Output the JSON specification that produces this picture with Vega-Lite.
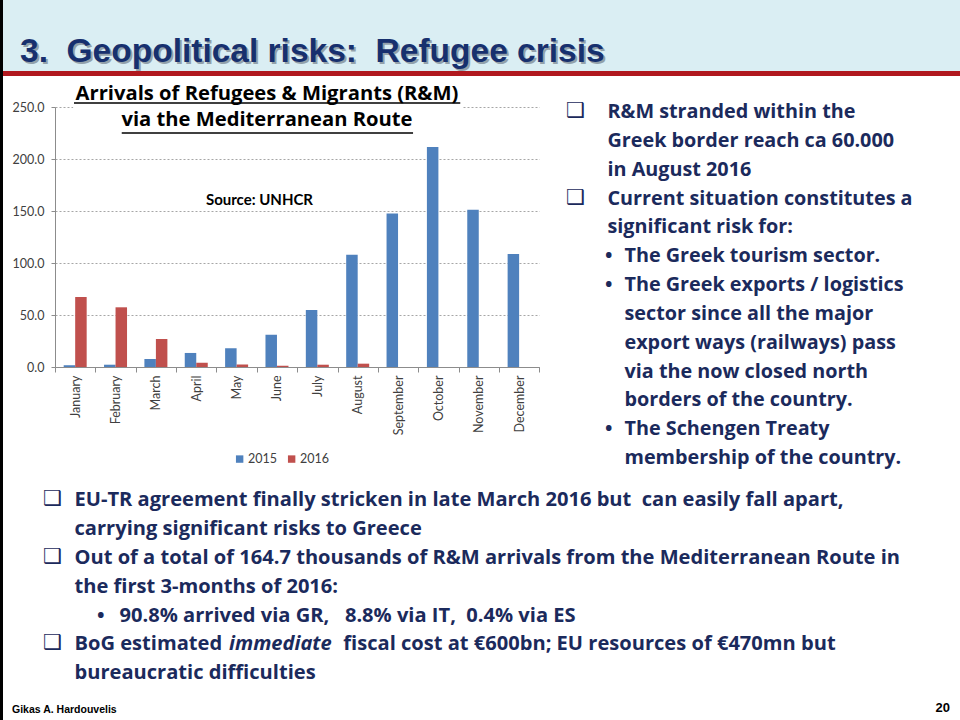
{
  "$schema": "https://vega.github.io/schema/vega-lite/v6.json",
  "padding": 0,
  "background": "white",
  "config": {"view": {"stroke": null}, "font": "Lato"},
  "datasets": {
    "arrivals": [
      {"month": "January", "year": "2015", "value": 1.7},
      {"month": "February", "year": "2015", "value": 2.2},
      {"month": "March", "year": "2015", "value": 7.7},
      {"month": "April", "year": "2015", "value": 13.5},
      {"month": "May", "year": "2015", "value": 18.0},
      {"month": "June", "year": "2015", "value": 31.1},
      {"month": "July", "year": "2015", "value": 54.8},
      {"month": "August", "year": "2015", "value": 108.0},
      {"month": "September", "year": "2015", "value": 147.5},
      {"month": "October", "year": "2015", "value": 211.5},
      {"month": "November", "year": "2015", "value": 151.3},
      {"month": "December", "year": "2015", "value": 108.6},
      {"month": "January", "year": "2016", "value": 67.3},
      {"month": "February", "year": "2016", "value": 57.4},
      {"month": "March", "year": "2016", "value": 26.9},
      {"month": "April", "year": "2016", "value": 4.2},
      {"month": "May", "year": "2016", "value": 2.3},
      {"month": "June", "year": "2016", "value": 1.2},
      {"month": "July", "year": "2016", "value": 2.2},
      {"month": "August", "year": "2016", "value": 3.2}
    ],
    "labels": [
      {"role": "cover", "label": ""},
      {"role": "title1", "label": "Arrivals of Refugees & Migrants (R&M)"},
      {"role": "title2", "label": "via the Mediterranean Route"},
      {"role": "source", "label": "Source: UNHCR"}
    ],
    "header": [{"t": "3.\u00a0 Geopolitical risks:\u00a0 Refugee crisis"}],
    "rightText": [
      {"line": 0, "kind": "box", "text": "R&M stranded within the"},
      {"line": 1, "kind": "cont", "text": "Greek border reach ca 60.000"},
      {"line": 2, "kind": "cont", "text": "in August 2016"},
      {"line": 3, "kind": "box", "text": "Current situation constitutes a"},
      {"line": 4, "kind": "cont", "text": "significant risk for:"},
      {"line": 5, "kind": "bullet", "text": "The Greek tourism sector."},
      {"line": 6, "kind": "bullet", "text": "The Greek exports / logistics"},
      {"line": 7, "kind": "bcont", "text": "sector since all the major"},
      {"line": 8, "kind": "bcont", "text": "export ways (railways) pass"},
      {"line": 9, "kind": "bcont", "text": "via the now closed north"},
      {"line": 10, "kind": "bcont", "text": "borders of the country."},
      {"line": 11, "kind": "bullet", "text": "The Schengen Treaty"},
      {"line": 12, "kind": "bcont", "text": "membership of the country."}
    ],
    "bottomText": [
      {"line": 0, "kind": "box", "seg": "a", "text": "EU-TR agreement finally stricken in late March 2016 but\u00a0 can easily fall apart,"},
      {"line": 1, "kind": "cont", "seg": "a", "text": "carrying significant risks to Greece"},
      {"line": 2, "kind": "box", "seg": "a", "text": "Out of a total of 164.7 thousands of R&M arrivals from the Mediterranean Route in"},
      {"line": 3, "kind": "cont", "seg": "a", "text": "the first 3-months of 2016:"},
      {"line": 4, "kind": "bullet", "seg": "a", "text": "90.8% arrived via GR,\u00a0\u00a0 8.8% via IT,\u00a0 0.4% via ES"},
      {"line": 5, "kind": "box", "seg": "a", "text": "BoG estimated"},
      {"line": 5, "kind": "cont", "seg": "b", "text": "immediate"},
      {"line": 5, "kind": "cont", "seg": "c", "text": "fiscal cost at €600bn; EU resources of €470mn but"},
      {"line": 6, "kind": "cont", "seg": "a", "text": "bureaucratic difficulties"}
    ],
    "footer": [
      {"pos": "left", "t": "Gikas A. Hardouvelis"},
      {"pos": "right", "t": "20"}
    ]
  },
  "spacing": 0,
  "bounds": "flush",
  "hconcat": [
    {"width": 3, "height": 720, "view": {"fill": "#000000"}, "data": {"values": [{}]}, "mark": "text", "encoding": {"text": {"value": ""}}},
    {
      "spacing": 0,
      "bounds": "flush",
      "vconcat": [
        {
          "width": 957, "height": 71,
          "view": {"fill": "#DAEEF3"},
          "data": {"name": "header"},
          "layer": [
            {"mark": {"type": "text", "x": 19, "y": 63.7, "align": "left", "baseline": "alphabetic", "font": "Liberation Sans", "fontWeight": "bold", "fontSize": 33.5, "color": "#5A6470", "opacity": 0.55}, "encoding": {"text": {"field": "t"}}},
            {"mark": {"type": "text", "x": 17, "y": 61.7, "align": "left", "baseline": "alphabetic", "font": "Liberation Sans", "fontWeight": "bold", "fontSize": 33.5, "color": "#17306E"}, "encoding": {"text": {"field": "t"}}}
          ]
        },
        {"width": 957, "height": 5, "view": {"fill": "#B0181E"}, "data": {"values": [{}]}, "mark": "text", "encoding": {"text": {"value": ""}}},
        {"width": 957, "height": 30.7, "data": {"values": [{}]}, "mark": "text", "encoding": {"text": {"value": ""}}},
        {
          "spacing": 0,
          "bounds": "flush",
          "hconcat": [
            {"width": 52, "height": 10, "data": {"values": [{}]}, "mark": "text", "encoding": {"text": {"value": ""}}},
            {
              "width": 484.3, "height": 260,
              "layer": [
                {
                  "data": {"name": "arrivals"},
                  "mark": {"type": "bar"},
                  "encoding": {
                    "x": {"field": "month", "type": "nominal",
                      "scale": {"domain": ["January","February","March","April","May","June","July","August","September","October","November","December"], "paddingInner": 0, "paddingOuter": 0},
                      "axis": {"title": null, "labelAngle": -90, "labelFont": "Lato", "labelFontSize": 12.5, "labelColor": "#404040", "tickBand": "extent", "tickSize": 5, "tickColor": "#8C8C8C", "domainColor": "#8C8C8C", "labelPadding": 3, "grid": false}},
                    "xOffset": {"field": "year", "type": "nominal", "scale": {"domain": ["2015", "2016"], "paddingInner": 0, "paddingOuter": 0.755}},
                    "y": {"field": "value", "type": "quantitative",
                      "scale": {"domain": [0, 250], "nice": false},
                      "axis": {"title": null, "values": [0, 50, 100, 150, 200, 250], "format": ".1f", "labelFont": "Lato", "labelFontSize": 12.5, "labelColor": "#404040", "tickSize": 4, "tickColor": "#8C8C8C", "domainColor": "#8C8C8C", "labelPadding": 7, "grid": true, "gridColor": "#A6A6A6", "gridDash": [2, 2]}},
                    "color": {"field": "year", "type": "nominal",
                      "scale": {"domain": ["2015", "2016"], "range": ["#4F81BD", "#C0504D"]},
                      "legend": {"title": null, "orient": "none", "legendX": 233.4, "legendY": 452.7, "direction": "horizontal", "symbolType": "square", "symbolSize": 55, "symbolStrokeWidth": 0, "labelFont": "Lato", "labelFontSize": 12.5, "labelColor": "#404040", "columnPadding": 8, "labelOffset": 2}}
                  }
                },
                {
                  "data": {"name": "labels"},
                  "transform": [{"filter": "datum.role === 'cover'"}],
                  "mark": {"type": "rule", "color": "white", "strokeWidth": 5, "xOffset": -2, "x2Offset": -16},
                  "encoding": {"x": {"datum": "January"}, "x2": {"datum": "November"}, "y": {"datum": 250}}
                },
                {
                  "data": {"name": "labels"},
                  "transform": [{"filter": "datum.role === 'title1'"}],
                  "mark": {"type": "text", "font": "Open Sans", "fontWeight": "bold", "fontSize": 20.2, "color": "#000000", "align": "center", "baseline": "middle", "dx": -10},
                  "encoding": {"x": {"datum": "June"}, "y": {"datum": 262.2}, "text": {"field": "label"}}
                },
                {
                  "data": {"name": "labels"},
                  "transform": [{"filter": "datum.role === 'title2'"}],
                  "mark": {"type": "text", "font": "Open Sans", "fontWeight": "bold", "fontSize": 20.2, "color": "#000000", "align": "center", "baseline": "middle", "dx": -10},
                  "encoding": {"x": {"datum": "June"}, "y": {"datum": 237.7}, "text": {"field": "label"}}
                },
                {
                  "data": {"name": "labels"},
                  "transform": [{"filter": "datum.role === 'title1'"}],
                  "mark": {"type": "rule", "color": "#000000", "strokeWidth": 1.5, "xOffset": -1.2, "x2Offset": -18.5},
                  "encoding": {"x": {"datum": "January"}, "x2": {"datum": "November"}, "y": {"datum": 253.8}}
                },
                {
                  "data": {"name": "labels"},
                  "transform": [{"filter": "datum.role === 'title2'"}],
                  "mark": {"type": "rule", "color": "#000000", "strokeWidth": 1.5, "xOffset": 6.2, "x2Offset": 15},
                  "encoding": {"x": {"datum": "February"}, "x2": {"datum": "September"}, "y": {"datum": 225}}
                },
                {
                  "data": {"name": "labels"},
                  "transform": [{"filter": "datum.role === 'source'"}],
                  "mark": {"type": "text", "font": "Lato", "fontWeight": "bold", "fontSize": 15, "color": "#000000", "align": "center", "baseline": "middle", "dx": -17.5},
                  "encoding": {"x": {"datum": "June"}, "y": {"datum": 160.3}, "text": {"field": "label"}}
                }
              ]
            },
            {"width": 20.7, "height": 10, "data": {"values": [{}]}, "mark": "text", "encoding": {"text": {"value": ""}}},
            {
              "width": 400, "height": 346,
              "data": {"name": "rightText"},
              "encoding": {"y": {"field": "line", "type": "quantitative", "scale": {"domain": [0, 12], "reverse": true, "nice": false, "zero": false}, "axis": null}},
              "layer": [
                {"transform": [{"filter": "datum.kind === 'box'"}], "mark": {"type": "text", "x": 5, "dy": 4, "align": "left", "baseline": "middle", "font": "DejaVu Sans", "fontWeight": "bold", "fontSize": 21, "color": "#1B2A5C"}, "encoding": {"text": {"value": "❑"}}},
                {"transform": [{"filter": "datum.kind === 'bullet'"}], "mark": {"type": "text", "x": 44, "dy": 5, "align": "left", "baseline": "middle", "font": "Open Sans", "fontWeight": "bold", "fontSize": 19.8, "color": "#1B2A5C"}, "encoding": {"text": {"value": "•"}}},
                {"transform": [{"filter": "datum.kind === 'box' || datum.kind === 'cont'"}], "mark": {"type": "text", "x": 46.5, "dy": 5, "align": "left", "baseline": "middle", "font": "Open Sans", "fontWeight": "bold", "fontSize": 19.8, "color": "#1B2A5C"}, "encoding": {"text": {"field": "text"}}},
                {"transform": [{"filter": "datum.kind === 'bullet' || datum.kind === 'bcont'"}], "mark": {"type": "text", "x": 63.5, "dy": 5, "align": "left", "baseline": "middle", "font": "Open Sans", "fontWeight": "bold", "fontSize": 19.8, "color": "#1B2A5C"}, "encoding": {"text": {"field": "text"}}}
              ]
            }
          ]
        },
        {"width": 957, "height": 386, "data": {"values": [{}]}, "mark": "text", "encoding": {"text": {"value": ""}}},
        {
          "width": 957, "height": 172.8,
          "data": {"name": "bottomText"},
          "encoding": {"y": {"field": "line", "type": "quantitative", "scale": {"domain": [0, 6], "reverse": true, "nice": false, "zero": false}, "axis": null}},
          "layer": [
            {"transform": [{"filter": "datum.kind === 'box'"}], "mark": {"type": "text", "x": 40, "dy": 6.3, "align": "left", "baseline": "middle", "font": "DejaVu Sans", "fontWeight": "bold", "fontSize": 21, "color": "#1B2A5C"}, "encoding": {"text": {"value": "❑"}}},
            {"transform": [{"filter": "datum.kind === 'bullet'"}], "mark": {"type": "text", "x": 94, "dy": 7.3, "align": "left", "baseline": "middle", "font": "Open Sans", "fontWeight": "bold", "fontSize": 20.1, "color": "#1B2A5C"}, "encoding": {"text": {"value": "•"}}},
            {"transform": [{"filter": "(datum.kind === 'box' || datum.kind === 'cont') && datum.seg === 'a'"}], "mark": {"type": "text", "x": 71.5, "dy": 7.3, "align": "left", "baseline": "middle", "font": "Open Sans", "fontWeight": "bold", "fontSize": 20.1, "color": "#1B2A5C"}, "encoding": {"text": {"field": "text"}}},
            {"transform": [{"filter": "datum.seg === 'b'"}], "mark": {"type": "text", "x": 226, "dy": 7.3, "align": "left", "baseline": "middle", "font": "Open Sans", "fontWeight": "bold", "fontStyle": "italic", "fontSize": 20.1, "color": "#1B2A5C"}, "encoding": {"text": {"field": "text"}}},
            {"transform": [{"filter": "datum.seg === 'c'"}], "mark": {"type": "text", "x": 340.3, "dy": 7.3, "align": "left", "baseline": "middle", "font": "Open Sans", "fontWeight": "bold", "fontSize": 20.1, "color": "#1B2A5C"}, "encoding": {"text": {"field": "text"}}},
            {"transform": [{"filter": "datum.kind === 'bullet'"}], "mark": {"type": "text", "x": 116.5, "dy": 7.3, "align": "left", "baseline": "middle", "font": "Open Sans", "fontWeight": "bold", "fontSize": 20.1, "color": "#1B2A5C"}, "encoding": {"text": {"field": "text"}}}
          ]
        },
        {
          "width": 957, "height": 54.5,
          "data": {"name": "footer"},
          "layer": [
            {"transform": [{"filter": "datum.pos === 'left'"}], "mark": {"type": "text", "x": 9, "y": 44.2, "align": "left", "baseline": "middle", "font": "Liberation Sans", "fontWeight": "bold", "fontSize": 10.5, "color": "#000000"}, "encoding": {"text": {"field": "t"}}},
            {"transform": [{"filter": "datum.pos === 'right'"}], "mark": {"type": "text", "x": 947, "y": 41.5, "align": "right", "baseline": "middle", "font": "Liberation Sans", "fontWeight": "bold", "fontSize": 13, "color": "#000000"}, "encoding": {"text": {"field": "t"}}}
          ]
        }
      ]
    }
  ]
}
